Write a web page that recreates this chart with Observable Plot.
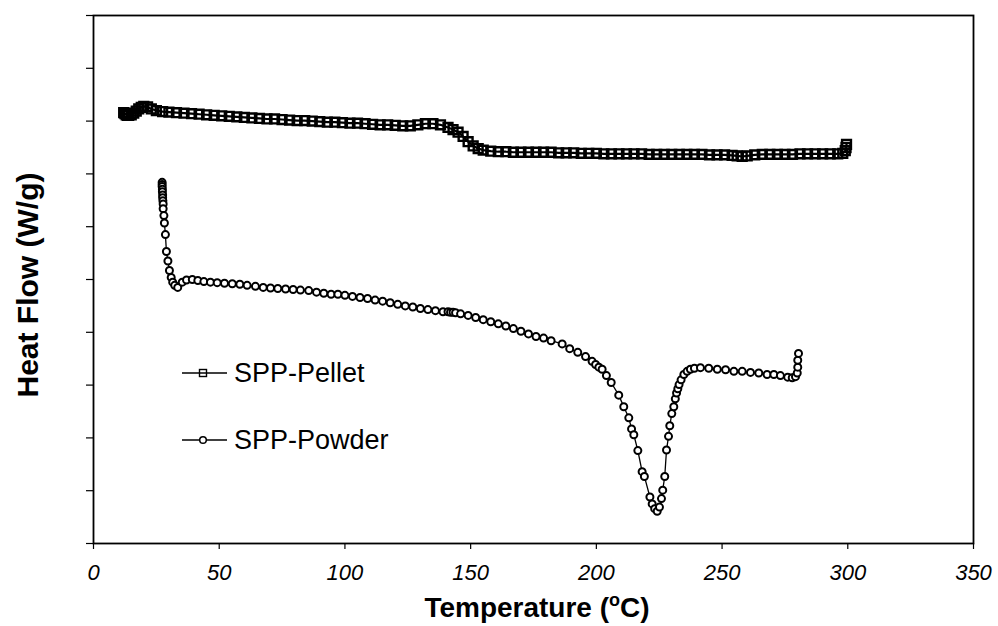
<!DOCTYPE html>
<html>
<head>
<meta charset="utf-8">
<script src="https://cdn.jsdelivr.net/npm/d3@7"></script>
<script src="https://cdn.jsdelivr.net/npm/@observablehq/plot@0.6"></script>
<style>
  html, body { margin: 0; padding: 0; background: #fff; }
  #chart { position: relative; width: 998px; height: 626px; }
  svg { font-family: "Liberation Sans", Arial, sans-serif; }
  g[aria-label="x-axis tick label"] text { font-style: italic; font-size: 22px; }
</style>
</head>
<body>
<div id="chart"></div>
<script>
// ---------- data ----------
const seriesNames = ["SPP-Pellet", "SPP-Powder"];
const xTicks = [0, 50, 100, 150, 200, 250, 300, 350];
const yTicks = [0, 1, 2, 3, 4, 5, 6, 7, 8, 9, 10];

const pelletT = [12, 12.5, 13, 13.5, 14, 15, 16, 17, 18, 19, 20, 21.5, 23, 25, 27.5, 30,
  33, 36, 39, 42, 45, 48, 51, 54, 57, 60, 63, 66, 69, 72, 75, 78, 81, 84, 87, 90, 93, 96, 99,
  102, 105, 108, 111, 114, 117, 120, 123, 126, 129, 132, 135, 138, 141, 143, 145, 147, 149, 151, 153, 155,
  158, 161, 164, 167, 170, 173, 176, 179, 182, 185, 188, 191, 194, 197, 200, 203, 206, 209, 212, 215,
  218, 221, 224, 227, 230, 233, 236, 239, 242, 245, 248, 251, 254, 256, 258, 260, 263, 266, 269, 272,
  275, 278, 281, 284, 287, 290, 293, 296, 298, 299, 299.3, 299.5];
const pelletHF = [8.16, 8.14, 8.12, 8.11, 8.11, 8.12, 8.15, 8.19, 8.23, 8.26, 8.28, 8.27, 8.23, 8.20, 8.18, 8.17,
  8.16, 8.15, 8.14, 8.13, 8.12, 8.11, 8.10, 8.09, 8.08, 8.07, 8.06, 8.05, 8.04, 8.04, 8.03, 8.02, 8.01, 8.01, 8.00, 7.99, 7.98, 7.98, 7.97,
  7.96, 7.96, 7.95, 7.94, 7.93, 7.93, 7.92, 7.91, 7.91, 7.93, 7.95, 7.95, 7.93, 7.88, 7.84, 7.79, 7.71, 7.61, 7.53, 7.48, 7.45,
  7.43, 7.42, 7.42, 7.41, 7.41, 7.41, 7.41, 7.41, 7.41, 7.40, 7.40, 7.40, 7.39, 7.39, 7.39, 7.38, 7.38, 7.38, 7.38, 7.38,
  7.38, 7.37, 7.37, 7.37, 7.37, 7.37, 7.37, 7.37, 7.37, 7.36, 7.36, 7.36, 7.35, 7.34, 7.33, 7.34, 7.36, 7.37, 7.37, 7.37,
  7.37, 7.37, 7.38, 7.38, 7.38, 7.38, 7.38, 7.38, 7.39, 7.44, 7.50, 7.56];

const powderT = [27.3, 27.3, 27.3, 27.4, 27.4, 27.5, 27.5, 27.6, 27.7, 27.7, 28.0, 28.2, 28.6, 29.0, 29.6, 30.2, 30.9, 31.5, 32.3, 33.5,
  35.3, 37.0, 39.3, 41.5, 43.9, 46.5, 49.2, 52.1, 55.2, 58.2, 61.1, 64.4, 67.5, 70.4, 73.3, 76.4, 79.4, 82.3, 85.6, 88.7,
  91.6, 94.5, 97.2, 100, 103, 106, 109, 112, 115, 118, 121, 124, 127, 130, 133, 136, 139, 141, 142, 143,
  144, 146, 149, 152, 155, 158, 161, 164, 167, 170, 173, 176, 179, 182,
  186.4, 189.4, 192.6, 195.7, 198.3, 199.7, 201.0, 202.3, 204.0, 205.9, 208.9, 210.9, 212.9, 214.0, 214.9, 216.5, 218.2, 219.1,
  221.3, 222.2, 223.2, 224.2, 225.1, 225.9, 226.4, 227.2, 227.9, 228.7, 229.2, 230.0, 230.8, 231.4, 231.9, 232.4, 232.9, 233.7,
  234.8, 236.1, 237.4, 239.0, 241.4, 244.7, 248.1, 251.4, 254.7, 258.0, 261.3, 264.6, 267.9, 270.6, 273.2, 276.1, 277.9,
  279.2, 279.9, 280.1, 280.1, 280.4];
const powderHF = [6.84, 6.80, 6.76, 6.71, 6.66, 6.60, 6.55, 6.49, 6.43, 6.34, 6.21, 6.07, 5.85, 5.53, 5.35, 5.17, 5.04, 4.95, 4.89, 4.85,
  4.95, 4.99, 5.00, 4.98, 4.96, 4.95, 4.94, 4.93, 4.92, 4.91, 4.89, 4.87, 4.85, 4.84, 4.83, 4.82, 4.81, 4.80, 4.79, 4.76,
  4.74, 4.72, 4.72, 4.70, 4.68, 4.66, 4.64, 4.61, 4.59, 4.56, 4.53, 4.50, 4.48, 4.45, 4.43, 4.41, 4.39, 4.39, 4.38, 4.38,
  4.37, 4.35, 4.32, 4.28, 4.24, 4.20, 4.16, 4.12, 4.07, 4.02, 3.97, 3.92, 3.89, 3.84,
  3.78, 3.69, 3.62, 3.54, 3.45, 3.39, 3.34, 3.30, 3.18, 3.05, 2.81, 2.59, 2.38, 2.17, 2.06, 1.76, 1.36, 1.27,
  0.88, 0.75, 0.66, 0.61, 0.69, 0.85, 1.01, 1.27, 1.77, 2.03, 2.23, 2.46, 2.59, 2.74, 2.85, 2.93, 3.01, 3.10,
  3.20, 3.26, 3.30, 3.32, 3.33, 3.32, 3.30, 3.29, 3.26, 3.26, 3.24, 3.23, 3.20, 3.20, 3.18, 3.15, 3.14,
  3.16, 3.23, 3.34, 3.47, 3.60];

const xTitle = "Temperature (";
const xTitleSup = "o";
const xTitleEnd = "C)";
const yTitle = "Heat Flow (W/g)";

// ---------- build ----------
const pellet = pelletT.map((t, i) => ({t, hf: pelletHF[i]}));
const powder = powderT.map((t, i) => ({t, hf: powderHF[i]}));

const chart = Plot.plot({
  width: 998,
  height: 626,
  marginLeft: 93,
  marginRight: 25,
  marginTop: 15,
  marginBottom: 83,
  style: {background: "#fff", color: "#000", fontFamily: "'Liberation Sans', Arial, sans-serif"},
  x: {domain: [0, 350]},
  y: {domain: [0, 10]},
  marks: [
    Plot.axisX({ticks: xTicks, tickSize: 6, tickPadding: 15, fontSize: 22, fontStyle: "italic", label: null, strokeWidth: 1.2}),
    Plot.axisY({ticks: yTicks, tickSize: 7, tickFormat: () => "", label: null, strokeWidth: 1.2}),
    Plot.line(powder, {x: "t", y: "hf", stroke: "#000", strokeWidth: 1.3}),
    Plot.dot(powder, {x: "t", y: "hf", r: 3.5, fill: "#fff", stroke: "#000", strokeWidth: 2}),
    Plot.line(pellet, {x: "t", y: "hf", stroke: "#000", strokeWidth: 2.2}),
    Plot.dot(pellet, {x: "t", y: "hf", symbol: "square", r: 5, fill: "none", stroke: "#000", strokeWidth: 2.4}),
    Plot.frame({stroke: "#000", strokeWidth: 1.8})
  ]
});
document.getElementById("chart").appendChild(chart);

const svg = d3.select(chart);
const font = "'Liberation Sans', Arial, sans-serif";

// x title with superscript o
const xt = svg.append("text")
  .attr("x", 537).attr("y", 617)
  .attr("text-anchor", "middle")
  .attr("font-family", font).attr("font-weight", "bold").attr("font-size", 28)
  .attr("fill", "#000");
xt.append("tspan").text(xTitle);
xt.append("tspan").attr("dy", -11).attr("font-size", 18).text(xTitleSup);
xt.append("tspan").attr("dy", 11).text(xTitleEnd);

// y title
svg.append("text")
  .attr("transform", "translate(38,285) rotate(-90)")
  .attr("text-anchor", "middle")
  .attr("font-family", font).attr("font-weight", "bold").attr("font-size", 30)
  .attr("fill", "#000")
  .text(yTitle);

// legend
const legendRows = [
  {name: seriesNames[0], y: 373, sym: "square"},
  {name: seriesNames[1], y: 440, sym: "circle"}
];
const lg = svg.append("g").attr("font-family", font);
legendRows.forEach(d => {
  lg.append("line").attr("x1", 182).attr("x2", 227).attr("y1", d.y).attr("y2", d.y)
    .attr("stroke", "#000").attr("stroke-width", 1.4);
  if (d.sym === "square") {
    lg.append("rect").attr("x", 199.5).attr("y", d.y - 3.5).attr("width", 7).attr("height", 7)
      .attr("fill", "none").attr("stroke", "#000").attr("stroke-width", 1.4);
  } else {
    lg.append("circle").attr("cx", 203).attr("cy", d.y).attr("r", 3.3)
      .attr("fill", "#fff").attr("stroke", "#000").attr("stroke-width", 1.5);
  }
  lg.append("text").attr("x", 234).attr("y", d.y + 9)
    .attr("text-anchor", "start")
    .attr("font-size", 27).attr("fill", "#000").text(d.name);
});
</script>
</body>
</html>
